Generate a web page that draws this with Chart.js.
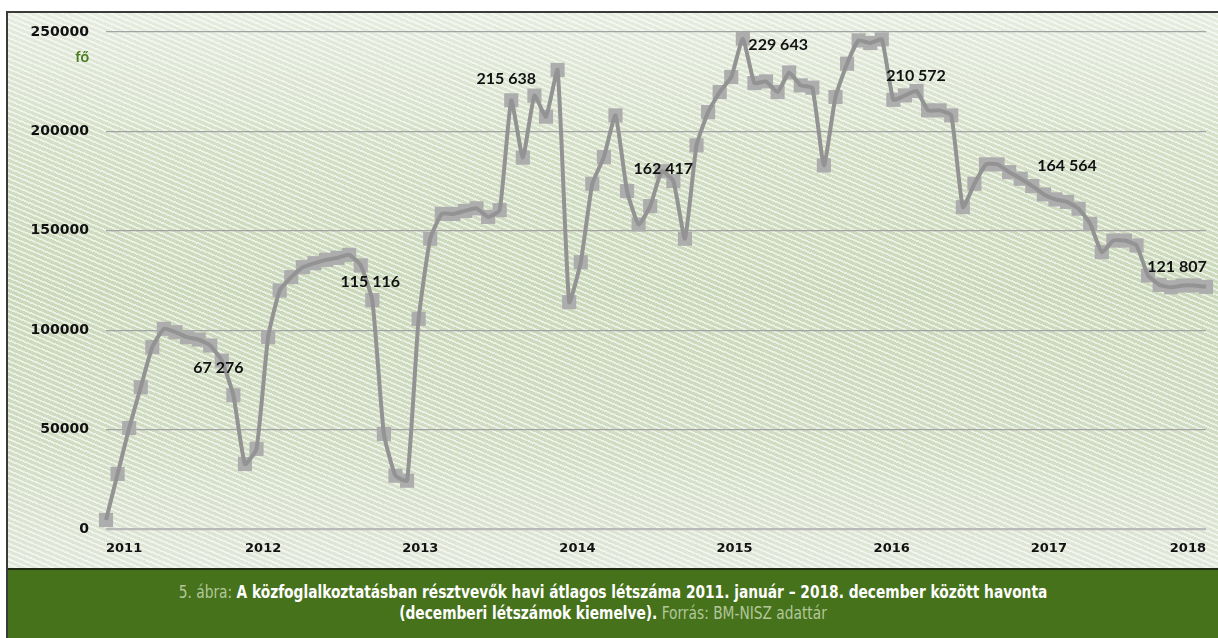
<!DOCTYPE html>
<html>
<head>
<meta charset="utf-8">
<script src="https://cdn.jsdelivr.net/npm/chart.js@4.4.0/dist/chart.umd.min.js"></script>
<style>
  body { margin: 0; background: #fff; width: 1218px; height: 638px; overflow: hidden; }
  #frame {
    position: absolute; left: 6px; top: 11px; width: 1210px; height: 640px;
    border-left: 2px solid #3a3a3a; border-top: 2px solid #3a3a3a; border-right: 2px solid #3a3a3a;
  }
  #plot {
    position: absolute; left: 0; top: 0; width: 1210px; height: 555px;
    background:
      repeating-linear-gradient(203deg, rgba(255,255,255,0.6) 0 1.8px, rgba(255,255,255,0) 1.8px 4.8px),
      linear-gradient(to bottom, #e6ecdf 0%, #d3dec5 25%, #cad8ba 50%, #d1dcc3 78%, #e2e8da 100%);
  }
  #caption {
    position: absolute; left: 0; top: 555px; width: 1210px; height: 90px;
    border-top: 2px solid #1f2a12; background: #46721b;
  }
  #captext {
    font-family: "DejaVu Sans Condensed", "Liberation Sans Narrow", "Roboto", sans-serif;
    font-size: 17px; line-height: 21px; text-align: center; color: #fff;
    padding-top: 12px; transform: scaleX(0.9); transform-origin: 50% 0;
  }
  #captext b { font-weight: bold; }
  #captext .light { color: #b3c79a; }
</style>
</head>
<body>
<div id="frame">
  <div id="plot"><canvas id="chart" width="1210" height="555"></canvas></div>
  <div id="caption"><div id="captext">
    <span class="light">5. ábra:</span> <b>A közfoglalkoztatásban résztvevők havi átlagos létszáma 2011. január – 2018. december között havonta</b><br>
    <b>(decemberi létszámok kiemelve).</b> <span class="light">Forrás: BM-NISZ adattár</span>
  </div></div>
</div>
<script>
// year tick labels and month categories
const years = ['2011', '2012', '2013', '2014', '2015', '2016', '2017', '2018'];
const months = ['01', '02', '03', '04', '05', '06', '07', '08', '09', '10', '11', '12'];

// monthly average headcount (fő), Jan..Dec per year
const v2011 = [4500, 27700, 50800, 71300, 91500, 100700, 99000, 96500, 95300, 92300, 84700, 67276];
const v2012 = [32700, 40300, 96500, 120000, 126700, 131700, 133700, 135400, 136400, 137900, 132600, 115116];
const v2013 = [47800, 26800, 24300, 105700, 146000, 158500, 158500, 160000, 161300, 157000, 160400, 215638];
const v2014 = [186800, 218000, 207400, 230900, 114100, 134200, 173650, 187100, 208050, 170000, 153200, 162417];
const v2015 = [180000, 175000, 146000, 193000, 209700, 219800, 227350, 246650, 224300, 225150, 219800, 229643];
const v2016 = [223150, 222000, 182900, 217300, 234060, 245800, 244460, 246300, 215900, 218100, 220300, 210572];
const v2017 = [210570, 208050, 161900, 173650, 183400, 183400, 179500, 176200, 172500, 168300, 165800, 164564];
const v2018 = [161100, 153500, 139250, 145100, 145100, 142600, 127500, 122800, 121600, 122500, 122500, 121807];

const monthLabels = [];
years.forEach(y => months.forEach(m => monthLabels.push(y + '.' + m)));
const values = [].concat(v2011, v2012, v2013, v2014, v2015, v2016, v2017, v2018);

const FONT = '"DejaVu Sans", Lato, sans-serif';
const LABEL_FONT = 'Lato, "Open Sans", sans-serif';

// where each December label sits relative to its point
const decLabelShift = {
    11: [-15, -27], 23: [-2, -18], 35: [-5, -21], 47: [13, -37],
    59: [-11, -28], 71: [-12, -35], 83: [0, -36], 95: [-29, -20]
};

function spaced(v) {
    const k = Math.floor(v / 1000);
    const r = String(v % 1000).padStart(3, '0');
    return k + ' ' + r;
}

const decemberLabels = {
    id: 'decemberLabels',
    afterDatasetsDraw(chart) {
        const ctx = chart.ctx;
        const meta = chart.getDatasetMeta(0);
        ctx.save();
        ctx.font = 'bold 16px ' + LABEL_FONT;
        ctx.fillStyle = '#111';
        ctx.textAlign = 'center';
        ctx.textBaseline = 'middle';
        values.forEach((v, i) => {
            if (i % 12 !== 11) return;
            const pt = meta.data[i];
            const s = decLabelShift[i] || [0, -25];
            ctx.fillText(spaced(v), pt.x + s[0], pt.y + s[1]);
        });
        ctx.restore();
    }
};

const unitLabel = {
    id: 'unitLabel',
    afterDraw(chart) {
        const y = chart.scales.y;
        const ctx = chart.ctx;
        ctx.save();
        ctx.font = 'bold 15px ' + LABEL_FONT;
        ctx.fillStyle = '#4a7c20';
        ctx.textAlign = 'right';
        ctx.textBaseline = 'middle';
        ctx.fillText('fő', y.right - 17, y.getPixelForValue(250000) + 25);
        ctx.restore();
    }
};

new Chart(document.getElementById('chart'), {
    type: 'line',
    data: {
        labels: monthLabels,
        datasets: [{
            label: 'line',
            data: values,
            borderColor: '#939393',
            borderWidth: 4,
            tension: 0.15,
            pointRadius: 0,
            fill: false,
            order: 1
        }, {
            label: 'markers',
            data: values,
            showLine: false,
            pointStyle: 'rect',
            pointRadius: 10,
            pointBackgroundColor: '#adadad',
            pointBorderWidth: 0,
            order: 2
        }]
    },
    options: {
        responsive: false,
        animation: false,
        layout: { padding: { top: 19, right: 5, left: 0, bottom: 0 } },
        plugins: {
            legend: { display: false },
            tooltip: { enabled: false }
        },
        scales: {
            x: {
                type: 'category',
                display: false,
                offset: false
            },
            x2: {
                type: 'category',
                labels: years,
                position: 'bottom',
                offset: false,
                grid: { display: false, drawTicks: false },
                border: { display: false },
                ticks: {
                    autoSkip: false,
                    maxRotation: 0,
                    align: 'inner',
                    padding: 12,
                    color: '#111',
                    font: { family: FONT, size: 13, weight: 'bold' }
                },
                afterFit: s => { s.height = 39; }
            },
            y: {
                min: 0,
                max: 250000,
                grid: {
                    drawTicks: false,
                    color: c => c.tick && c.tick.value === 0 ? '#b9b9b9' : '#a3a3a3',
                    lineWidth: c => c.tick && c.tick.value === 0 ? 2.2 : 1.3
                },
                border: { display: false },
                ticks: {
                    stepSize: 50000,
                    padding: 17,
                    color: '#111',
                    font: { family: FONT, size: 14, weight: 'bold' },
                    callback: v => String(v)
                },
                afterFit: s => {
                    s.width = 98;
                    // label padding would otherwise push the plot top down
                    s.paddingTop = 0;
                    s.paddingBottom = 0;
                }
            }
        }
    },
    plugins: [decemberLabels, unitLabel]
});
</script>
</body>
</html>
